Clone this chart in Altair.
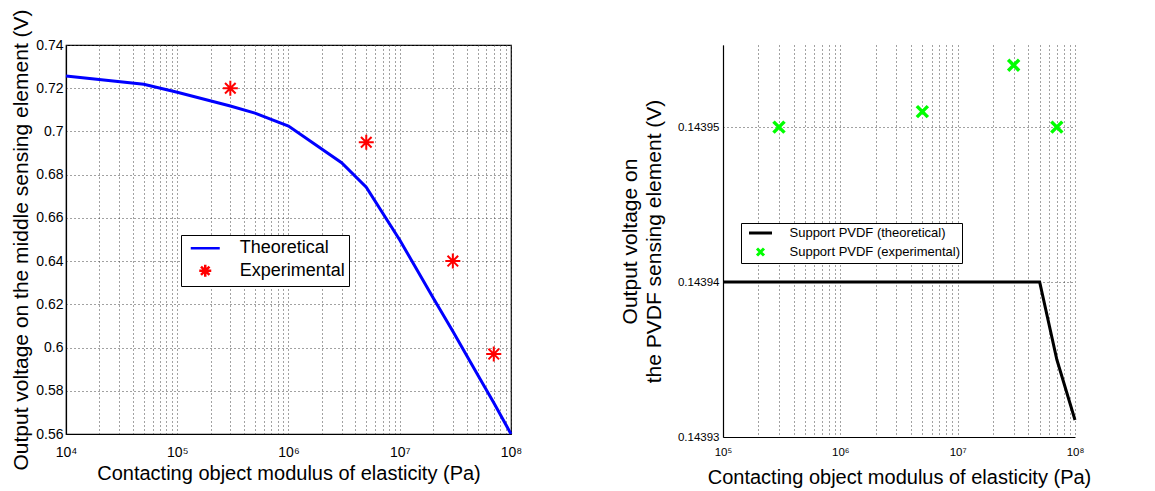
import altair as alt
import pandas as pd

FONT = "Liberation Sans"

# ---------------- Left panel data ----------------
left_theo_E = [1e4, 5e4, 1e5, 3e5, 5e5, 1e6, 3e6, 5e6, 1e7, 2e7, 3e7, 5e7, 7e7, 1e8]
left_theo_V = [0.7257, 0.7218, 0.7181, 0.7118, 0.7085, 0.7025, 0.6855, 0.6742,
               0.6498, 0.6229, 0.6075, 0.5875, 0.5745, 0.5600]
left_exp_E = [3e5, 5e6, 3e7, 7e7]
left_exp_V = [0.720, 0.695, 0.640, 0.597]
left_series = ["Theoretical", "Experimental"]
left_colors = ["#0000ff", "#ff0000"]
left_yticks = [0.56, 0.58, 0.60, 0.62, 0.64, 0.66, 0.68, 0.70, 0.72, 0.74]
left_xticks = [m * 10 ** e for e in range(4, 8) for m in range(1, 10)] + [1e8]

# ---------------- Right panel data ----------------
right_theo_E = [1e5, 1e6, 1e7, 5e7, 7e7, 1e8]
right_theo_V = [0.14394, 0.14394, 0.14394, 0.14394, 0.143935, 0.1439311]
right_exp_E = [3e5, 5e6, 3e7, 7e7]
right_exp_V = [0.14395, 0.143951, 0.143954, 0.14395]
right_series = ["Support PVDF (theoretical)", "Support PVDF (experimental)"]
right_colors = ["#000000", "#00ff00"]
right_yticks = [0.14393, 0.14394, 0.14395]
right_xticks = [m * 10 ** e for e in range(5, 8) for m in range(1, 10)] + [1e8]

SUP = "['⁰','¹','²','³','⁴','⁵','⁶','⁷','⁸','⁹']"
LABEL_EXPR = ("abs(log(datum.value)/LN10 - round(log(datum.value)/LN10)) < 1e-6 ? "
              "'10' + " + SUP + "[round(log(datum.value)/LN10)] : ''")

ASTERISK = ("M0,-0.75L0,0.75M-0.75,0L0.75,0"
            "M-0.53,-0.53L0.53,0.53M-0.53,0.53L0.53,-0.53")
LINE_L = "M-1.8125,0L1.8125,0"
XMARK = "M-0.5,-0.5L0.5,0.5M-0.5,0.5L0.5,-0.5"
LINE_R = "M-1.64,0L1.64,0"

TITLE_X = "Contacting object modulus of elasticity (Pa)"

common = dict(grid=True, gridColor="#444444", gridDash=[1, 3], gridWidth=1, ticks=False,
              labelFont=FONT, titleFont=FONT, titleFontWeight="normal",
              labelColor="black", titleColor="black", domainColor="black", domainWidth=1.2)

# ---------------- Left chart ----------------
lt = pd.DataFrame({"E": left_theo_E, "V": left_theo_V})
le = pd.DataFrame({"E": left_exp_E, "V": left_exp_V, "s": ["Experimental"] * len(left_exp_E)})

lx_axis = alt.Axis(values=left_xticks, labelExpr=LABEL_EXPR, labelFontSize=14,
                   labelOverlap=False, labelFlush=False, labelPadding=11,
                   title=TITLE_X, titleFontSize=20, titlePadding=4, **common)
ly_axis = alt.Axis(values=left_yticks, format=".2~f", labelFontSize=14, labelPadding=3,
                   title="Output voltage on the middle sensing element (V)",
                   titleFontSize=21, titlePadding=4, **common)
lx = alt.X("E:Q", scale=alt.Scale(type="log", domain=[1e4, 1e8]), axis=lx_axis)
ly = alt.Y("V:Q", scale=alt.Scale(domain=[0.56, 0.74], zero=False), axis=ly_axis)

l_legend = alt.Legend(orient="none", legendX=115, legendY=190, title=None,
                      strokeColor="black", fillColor="white", padding=3.75,
                      rowPadding=1.5, labelFontSize=18, labelFont=FONT, labelLimit=400,
                      symbolSize=256, symbolStrokeWidth=2.5, symbolOffset=11,
                      labelOffset=25, cornerRadius=0)

l_line = alt.Chart(lt).mark_line(color="#0000ff", strokeWidth=3).encode(x=lx, y=ly)
l_pts = alt.Chart(le).mark_point(filled=False, size=400, strokeWidth=2, opacity=1).encode(
    x=lx, y=ly,
    color=alt.Color("s:N", scale=alt.Scale(domain=left_series, range=left_colors), legend=l_legend),
    shape=alt.Shape("s:N", scale=alt.Scale(domain=left_series, range=[LINE_L, ASTERISK]), legend=l_legend),
)
left = alt.layer(l_line, l_pts).properties(
    width=445, height=389, view=alt.ViewBackground(stroke="black", strokeWidth=1.2))

# ---------------- Right chart ----------------
rt = pd.DataFrame({"E": right_theo_E, "V": right_theo_V})
re_ = pd.DataFrame({"E": right_exp_E, "V": right_exp_V,
                    "r": ["Support PVDF (experimental)"] * len(right_exp_E)})

rx_axis = alt.Axis(values=right_xticks, labelExpr=LABEL_EXPR, labelFontSize=11.5,
                   labelOverlap=False, labelFlush=False, labelPadding=9,
                   title=TITLE_X, titleFontSize=20, titlePadding=10, **common)
ry_axis = alt.Axis(values=right_yticks, format=".5f", labelFontSize=11.5, labelPadding=4,
                   title=["Output voltage on", "the PVDF sensing element (V)"],
                   titleFontSize=21, titleLineHeight=24, titlePadding=13, **common)
rx = alt.X("E:Q", scale=alt.Scale(type="log", domain=[1e5, 1e8]), axis=rx_axis)
ry = alt.Y("V:Q", scale=alt.Scale(domain=[0.14393, 0.1439553], zero=False), axis=ry_axis)

r_legend = alt.Legend(orient="none", legendX=18, legendY=178, title=None,
                      strokeColor="black", fillColor="white", padding=1.5,
                      rowPadding=2, labelFontSize=13, labelFont=FONT, labelLimit=400,
                      symbolSize=196, symbolStrokeWidth=3, symbolOffset=9.5,
                      labelOffset=20.5, cornerRadius=0)

r_line = alt.Chart(rt).mark_line(color="#000000", strokeWidth=3).encode(x=rx, y=ry)
r_pts = alt.Chart(re_).mark_point(filled=False, size=484, strokeWidth=3.5, opacity=1).encode(
    x=rx, y=ry,
    color=alt.Color("r:N", scale=alt.Scale(domain=right_series, range=right_colors), legend=r_legend),
    shape=alt.Shape("r:N", scale=alt.Scale(domain=right_series, range=[LINE_R, XMARK]), legend=r_legend),
)
right = alt.layer(r_line, r_pts).properties(
    width=352, height=392, view=alt.ViewBackground(stroke="transparent"))

chart = alt.hconcat(left, right, spacing=95).resolve_scale(
    x="independent", y="independent", color="independent", shape="independent"
).resolve_legend(color="independent", shape="independent").properties(
    padding={"left": 2, "top": 0, "right": 0, "bottom": 0}
).configure_axis(
    labelFont=FONT, titleFont=FONT, titleFontWeight="normal"
).configure_legend(labelFont=FONT).configure(background="white")

chart.save("out.html", embed_options={"renderer": "svg", "actions": False})
